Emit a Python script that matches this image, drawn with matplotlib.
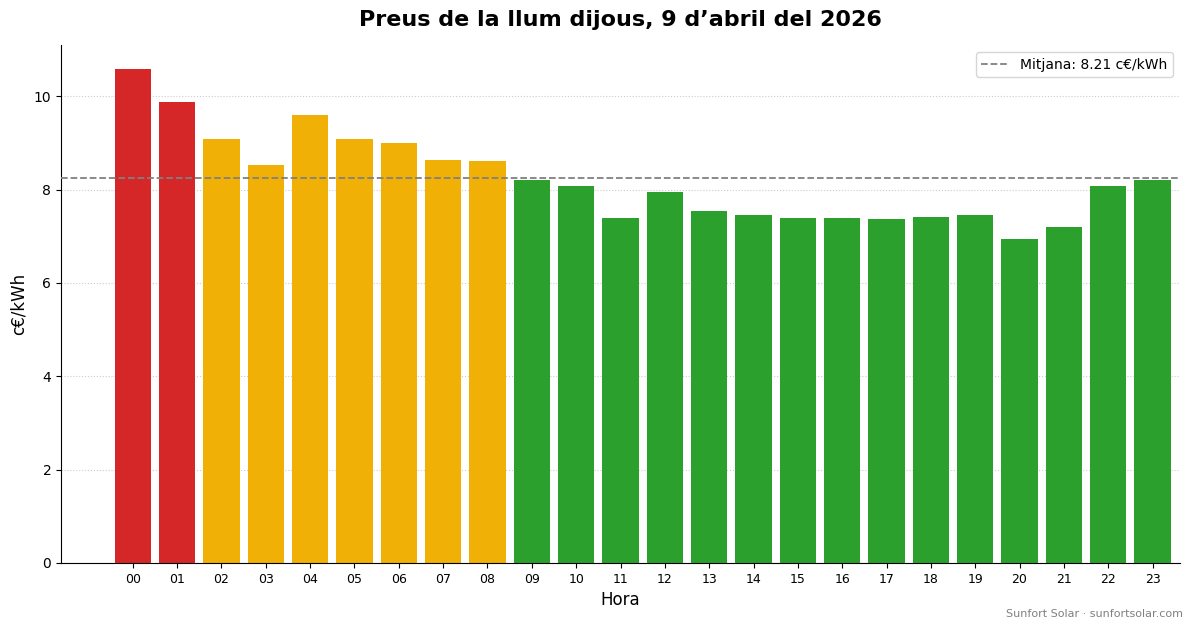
import matplotlib
matplotlib.use("Agg")
import matplotlib.pyplot as plt

hours = [f"{h:02d}" for h in range(24)]
prices = [10.58, 9.87, 9.08, 8.52, 9.61, 9.08, 8.99, 8.63, 8.61, 8.20, 8.07, 7.40,
          7.94, 7.55, 7.45, 7.40, 7.40, 7.38, 7.42, 7.45, 6.95, 7.21, 8.07, 8.20]
levels = ["high", "high"] + ["mid"] * 7 + ["low"] * 15
mean_price = 8.21
palette = {"high": "#d62728", "mid": "#f0b005", "low": "#2ca02c"}

fig = plt.figure(figsize=(11.93, 6.28), dpi=100)
ax = fig.add_axes([61/1193, 1-563/628, (1180-61)/1193, (563-45)/628])
x = list(range(len(hours)))
ax.bar(x, prices, width=0.82, color=[palette[l] for l in levels], zorder=2)
ax.axhline(8.24, color="gray", linestyle="--", linewidth=1.3,
           label=f"Mitjana: {mean_price:.2f} c€/kWh", zorder=3)
ax.set_xticks(x)
ax.set_xticklabels(hours, fontsize=9)
ax.set_xlim(-1.62, 23.62)
ax.set_ylim(0, 11.1)
ax.set_xlabel("Hora", fontsize=12)
ax.set_ylabel("c€/kWh", fontsize=12)
ax.set_title("Preus de la llum dijous, 9 d’abril del 2026", fontsize=16, fontweight="bold", pad=14)
ax.grid(axis="y", linestyle=":", color="#cccccc", linewidth=0.8, zorder=0)
ax.spines["top"].set_visible(False)
ax.spines["right"].set_visible(False)
ax.legend(loc="upper right", fontsize=10)
fig.text(0.992, 0.015, "Sunfort Solar · sunfortsolar.com", ha="right", va="bottom",
         fontsize=8, color="gray")
fig.savefig("out.png", dpi=100)
